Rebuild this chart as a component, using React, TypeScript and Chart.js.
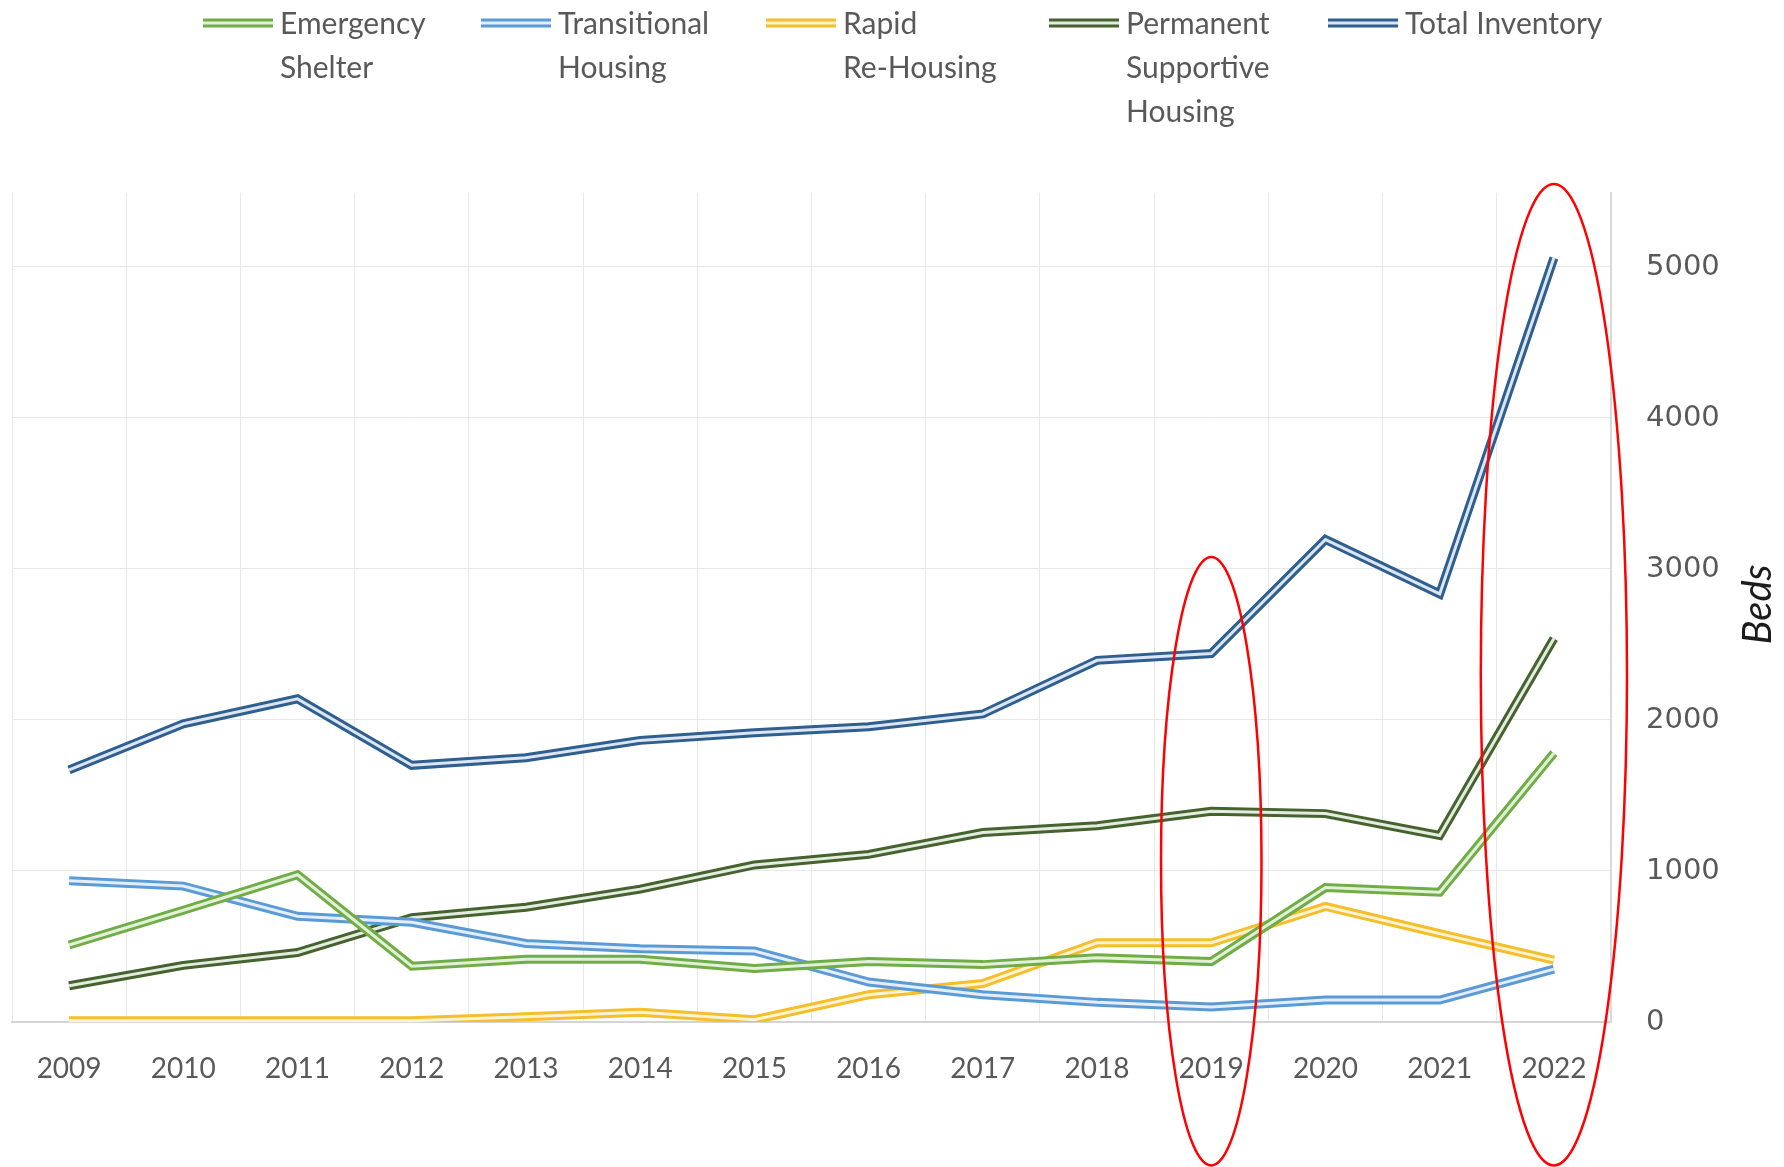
import React, { useEffect, useRef } from 'react';
import { Chart, registerables } from 'chart.js';

Chart.register(...registerables);

// ---------- data ----------
const years = ['2009', '2010', '2011', '2012', '2013', '2014', '2015', '2016', '2017', '2018', '2019', '2020', '2021', '2022'];
const emergencyShelter = [510, 740, 975, 370, 415, 415, 355, 400, 380, 425, 400, 890, 860, 1780];
const transitionalHousing = [935, 900, 700, 660, 520, 485, 470, 265, 180, 130, 100, 145, 145, 350];
const rapidReHousing = [8, 8, 8, 8, 35, 65, 15, 180, 255, 525, 525, 765, 585, 410];
const permanentSupportiveHousing = [240, 375, 460, 690, 760, 880, 1040, 1110, 1255, 1300, 1395, 1380, 1235, 2540];
const totalInventory = [1670, 1975, 2140, 1700, 1750, 1865, 1915, 1955, 2040, 2395, 2440, 3195, 2835, 5060];
const seriesLabels = [
  ['Emergency', 'Shelter'],
  ['Transitional', 'Housing'],
  ['Rapid', 'Re-Housing'],
  ['Permanent', 'Supportive', 'Housing'],
  ['Total Inventory'],
];
const yTickValues = [0, 1000, 2000, 3000, 4000, 5000];
const axisTitle = 'Beds';
// red highlight ellipses drawn over the picture (category, value range)
const highlightYears = ['2019', '2022'];
const highlightTopValues = [3080, 5550];
const highlightBottomValues = [-950, -950];

// ---------- styles ----------
const colors = ['#70ad47', '#5b9bd5', '#f4bf2a', '#44632f', '#2f5f8f'];
const innerColors = ['#e2f0d8', '#e3eefa', '#fdf3d2', '#e6ebe0', '#dbe6f2'];
const highlightHalfWidths = [0.44, 0.64];
const OUTER_W = 9;
const INNER_W = 3;
const legendX = [203, 481, 766, 1049, 1328];
const LEGEND_Y = 23;
const LEGEND_LINE_H = 44;
const LEGEND_FONT = '30px Lato';
const TEXT_GRAY = '#595959';

const doubleLinePlugin = {
  id: 'doubleLine',
  afterDatasetDraw(chart: any, args: any) {
    const ds: any = chart.data.datasets[args.index];
    const pts = args.meta.data;
    if (!pts || !pts.length) return;
    const ctx = chart.ctx;
    ctx.save();
    ctx.beginPath();
    pts.forEach((p: any, i: number) => (i ? ctx.lineTo(p.x, p.y) : ctx.moveTo(p.x, p.y)));
    ctx.strokeStyle = ds.innerColor;
    ctx.lineWidth = INNER_W;
    ctx.lineJoin = 'miter';
    ctx.lineCap = 'butt';
    ctx.stroke();
    ctx.restore();
  },
};

const legendPlugin = {
  id: 'customLegend',
  afterDraw(chart: any) {
    const ctx = chart.ctx;
    ctx.save();
    chart.data.datasets.forEach((ds: any, i: number) => {
      const x = legendX[i];
      ctx.beginPath();
      ctx.moveTo(x, LEGEND_Y);
      ctx.lineTo(x + 70, LEGEND_Y);
      ctx.strokeStyle = ds.borderColor;
      ctx.lineWidth = OUTER_W;
      ctx.stroke();
      ctx.beginPath();
      ctx.moveTo(x, LEGEND_Y);
      ctx.lineTo(x + 70, LEGEND_Y);
      ctx.strokeStyle = ds.innerColor;
      ctx.lineWidth = INNER_W;
      ctx.stroke();
      ctx.fillStyle = TEXT_GRAY;
      ctx.font = LEGEND_FONT;
      ctx.textAlign = 'left';
      ctx.textBaseline = 'middle';
      const lines: string[] = ds.labelLines;
      lines.forEach((t, j) => ctx.fillText(t, x + 77, LEGEND_Y + 1 + j * LEGEND_LINE_H));
    });
    ctx.restore();
  },
};

const titlePlugin = {
  id: 'axisTitleRight',
  afterDraw(chart: any) {
    const ctx = chart.ctx;
    const a = chart.chartArea;
    ctx.save();
    ctx.translate(a.right + 147, (a.top + a.bottom) / 2 - 3);
    ctx.rotate(-Math.PI / 2);
    ctx.font = 'italic 40px Lato';
    ctx.fillStyle = '#1c1c1c';
    ctx.textAlign = 'center';
    ctx.textBaseline = 'middle';
    ctx.fillText(axisTitle, 0, 0);
    ctx.restore();
  },
};

const ellipsePlugin = {
  id: 'highlightEllipses',
  afterDraw(chart: any) {
    const ctx = chart.ctx;
    const xs = chart.scales.x;
    const ys = chart.scales.y;
    const cat = (chart.chartArea.right - chart.chartArea.left) / years.length;
    ctx.save();
    ctx.strokeStyle = '#ff0000';
    ctx.lineWidth = 2.5;
    highlightYears.forEach((yr, i) => {
      const idx = years.indexOf(yr);
      const cx = xs.getPixelForValue(idx);
      const top = ys.getPixelForValue(highlightTopValues[i]);
      const bottom = ys.getPixelForValue(highlightBottomValues[i]);
      ctx.beginPath();
      ctx.ellipse(cx, (top + bottom) / 2, cat * highlightHalfWidths[i], (bottom - top) / 2, 0, 0, Math.PI * 2);
      ctx.stroke();
    });
    ctx.restore();
  },
};

export default function App() {
  const ref = useRef<HTMLCanvasElement | null>(null);

  useEffect(() => {
    document.body.style.margin = '0';
    document.body.style.overflow = 'hidden';
    const canvas = ref.current;
    if (!canvas) return;
    const series = [emergencyShelter, transitionalHousing, rapidReHousing, permanentSupportiveHousing, totalInventory];
    const chart = new Chart(canvas, {
      type: 'line',
      data: {
        labels: years,
        datasets: series.map((d, i) => ({
          label: seriesLabels[i].join(' '),
          labelLines: seriesLabels[i],
          data: d,
          borderColor: colors[i],
          innerColor: innerColors[i],
          borderWidth: OUTER_W,
          borderJoinStyle: 'miter',
          borderCapStyle: 'butt',
          pointRadius: 0,
          pointHoverRadius: 0,
          tension: 0,
          fill: false,
        })) as any,
      },
      options: {
        responsive: false,
        animation: false,
        devicePixelRatio: 1,
        layout: { padding: { left: 12, top: 193, right: 0, bottom: 0 } },
        plugins: {
          legend: { display: false },
          tooltip: { enabled: false },
        },
        scales: {
          x: {
            type: 'category',
            offset: true,
            grid: { offset: true, color: '#e8e8e8', lineWidth: 1, drawTicks: false },
            border: { color: '#d4d4d4', width: 2 },
            ticks: {
              color: TEXT_GRAY,
              font: { family: 'Lato', size: 28 },
              padding: 30,
              maxRotation: 0,
              autoSkip: false,
            },
            afterFit: (s: any) => {
              s.height = 145;
            },
          },
          y: {
            position: 'right',
            min: 0,
            max: 5490,
            grid: { color: '#e8e8e8', lineWidth: 1, drawTicks: false },
            border: { color: '#d9d9d9', width: 2 },
            ticks: {
              color: TEXT_GRAY,
              font: { family: 'DejaVu Sans', size: 29 },
              padding: 35,
              crossAlign: 'near',
              callback: (v: any) => String(v),
            },
            afterBuildTicks: (s: any) => {
              s.ticks = yTickValues.map((v) => ({ value: v }));
            },
            afterFit: (s: any) => {
              s.width = 173;
            },
          },
        },
      } as any,
      plugins: [doubleLinePlugin, legendPlugin, titlePlugin, ellipsePlugin],
    });
    return () => chart.destroy();
  }, []);

  return <canvas ref={ref} width={1784} height={1167} style={{ display: 'block' }} />;
}
